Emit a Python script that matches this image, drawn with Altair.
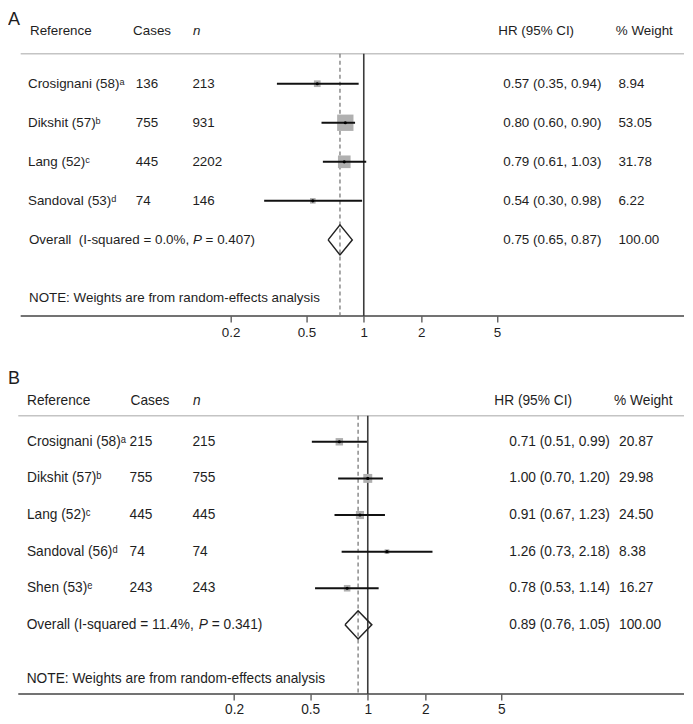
import altair as alt
import pandas as pd

FONT = "Liberation Sans"
TXT = "#1e1e1e"
ORIGIN = 8  # page margin: local = page - ORIGIN

# ---------------- data ----------------
headers = ["Reference", "Cases", "n", "HR (95% CI)", "% Weight"]
tick_values = [0.2, 0.5, 1, 2, 5]
note_text = "NOTE: Weights are from random-effects analysis"

a_names = ["Crosignani (58)\u1d43", "Dikshit (57)\u1d47", "Lang (52)\u1d9c", "Sandoval (53)\u1d48"]
a_cases = [136, 755, 445, 74]
a_n = [213, 931, 2202, 146]
a_hr = [0.57, 0.80, 0.79, 0.54]
a_lo = [0.35, 0.60, 0.61, 0.30]
a_hi = [0.94, 0.90, 1.03, 0.98]
a_weight = [8.94, 53.05, 31.78, 6.22]
a_overall = [0.75, 0.65, 0.87, 100.00]
a_overall_text = ["Overall\u00a0\u00a0(I-squared = 0.0%,", "P", "= 0.407)"]

b_names = ["Crosignani (58)\u1d43", "Dikshit (57)\u1d47", "Lang (52)\u1d9c", "Sandoval (56)\u1d48", "Shen (53)\u1d49"]
b_cases = [215, 755, 445, 74, 243]
b_n = [215, 755, 445, 74, 243]
b_hr = [0.71, 1.00, 0.91, 1.26, 0.78]
b_lo = [0.51, 0.70, 0.67, 0.73, 0.53]
b_hi = [0.99, 1.20, 1.23, 2.18, 1.14]
b_weight = [20.87, 29.98, 24.50, 8.38, 16.27]
b_overall = [0.89, 0.76, 1.05, 100.00]
b_overall_text = ["Overall (I-squared = 11.4%,", "P", "= 0.341)"]

# ---------------- layout (page pixels) ----------------
LA = dict(label="A", label_base=25, top=8, height=308, width=677,
          x0=20.7, x1=685, one=364.3, ppd=190.8,
          row0=83.3, step=39.1, header=30.7, hline=53.3, note=298, fs=13.4,
          c_name=28, h_name=30, c_cases=136, h_cases=133.3, c_n=192.7, h_n=193.3,
          c_hr=504, h_hr=499, c_w=619.3, h_w=616.7,
          ov_x=29, p_x=193.2, rest_x=205.9, box_k=5.05, lab_pad=3)
LB = dict(label="B", label_base=383.5, top=365, height=329, width=677,
          x0=18.3, x1=685, one=368.3, ppd=191.5,
          row0=441.3, step=36.67, header=400.3, hline=415.3, note=679.3, fs=13.75,
          c_name=27, h_name=27, c_cases=129.7, h_cases=130.7, c_n=192.7, h_n=193.3,
          c_hr=510, h_hr=495, c_w=620, h_w=615,
          ov_x=26.7, p_x=199, rest_x=212, box_k=2.67, lab_pad=2)
TICK = 6


def panel(names, cases, ns, hr, lo, hi, wt, overall, ov_text, L):
    k = len(names)
    fs = L["fs"]

    def row(py):
        return (py - L["row0"]) / L["step"]

    def lx(px):
        return px - ORIGIN

    rtop = row(L["top"])
    rbot = row(L["top"] + L["height"])
    hl = row(L["hline"])

    def xdom(px):
        return 10 ** ((px - L["one"]) / L["ppd"])

    xs = alt.Scale(type="log", domain=[xdom(ORIGIN), xdom(ORIGIN + L["width"])], nice=False)
    ys = alt.Scale(domain=[rtop, rbot], reverse=True, nice=False, zero=False)
    ax = alt.Axis(values=tick_values, format="~g", title=None, grid=False, domain=False,
                  tickColor="#444444", tickWidth=1.2, tickSize=TICK,
                  labelFontSize=fs, labelFont=FONT, labelColor=TXT,
                  labelPadding=L["lab_pad"], labelFlush=False, labelOverlap=False)

    studies = pd.DataFrame({
        "row": list(range(k)), "name": names, "cases": [str(c) for c in cases],
        "n": [str(v) for v in ns], "hr": hr, "lo": lo, "hi": hi, "weight": wt,
        "hr_text": [f"{h:.2f} ({l:.2f}, {u:.2f})" for h, l, u in zip(hr, lo, hi)],
        "w_text": [f"{w:.2f}" for w in wt],
    })
    guides = pd.DataFrame({
        "xa": [xdom(L["x0"]), xdom(L["x0"]), 1.0, overall[0]],
        "xb": [xdom(L["x1"]), xdom(L["x1"]), 1.0, overall[0]],
        "ya": [hl, rbot, hl, hl],
        "yb": [hl, rbot, rbot, rbot],
        "kind": ["header", "axis", "null", "overall"],
    })

    X = lambda f: alt.X(f, scale=xs, axis=ax)
    Y = alt.Y("row:Q", scale=ys, axis=None)

    layers = []

    def guide(kind, **style):
        return alt.Chart(guides).transform_filter(f"datum.kind == '{kind}'").mark_rule(**style).encode(
            x=X("xa:Q"), x2="xb:Q", y=alt.Y("ya:Q", scale=ys, axis=None), y2="yb:Q")

    layers.append(guide("header", color="#c4c4c4", strokeWidth=1.5))
    layers.append(guide("axis", color="#444444", strokeWidth=1.5))
    layers.append(guide("overall", color="#7a7a7a", strokeWidth=1.3, strokeDash=[4, 3]))
    layers.append(guide("null", color="#3c3c3c", strokeWidth=1.6))

    # weight boxes (area proportional to % weight)
    layers.append(alt.Chart(studies).transform_calculate(
        area=f"datum.weight * {L['box_k']}").mark_square(color="#b0b0b0", opacity=1).encode(
        x=X("hr:Q"), y=Y, size=alt.Size("area:Q", scale=None)))
    # confidence intervals
    layers.append(alt.Chart(studies).mark_rule(color="#111111", strokeWidth=2).encode(
        x=X("lo:Q"), x2="hi:Q", y=Y))
    # point estimates
    layers.append(alt.Chart(studies).mark_point(filled=True, color="#000000", size=10, opacity=1).encode(
        x=X("hr:Q"), y=Y))
    # pooled diamond
    h = 0.385
    dia = pd.DataFrame({
        "x": [overall[1], overall[0], overall[2], overall[0], overall[1]],
        "y": [k, k - h, k, k + h, k],
        "o": [0, 1, 2, 3, 4],
    })
    layers.append(alt.Chart(dia).mark_line(color="#222222", strokeWidth=1.5).encode(
        x=X("x:Q"), y=alt.Y("y:Q", scale=ys, axis=None), order="o:Q"))

    def txt(df, field, xpx, italic=False, size=None, baseline="middle"):
        return alt.Chart(df).mark_text(
            align="left", baseline=baseline, font=FONT, fontSize=size or fs, color=TXT,
            fontStyle="italic" if italic else "normal").encode(
            x=alt.value(lx(xpx)), y=Y, text=f"{field}:N")

    layers.append(txt(studies, "name", L["c_name"]))
    layers.append(txt(studies, "cases", L["c_cases"]))
    layers.append(txt(studies, "n", L["c_n"]))
    layers.append(txt(studies, "hr_text", L["c_hr"]))
    layers.append(txt(studies, "w_text", L["c_w"]))

    hr_ = row(L["header"])
    hx = [L["h_name"], L["h_cases"], L["h_n"], L["h_hr"], L["h_w"]]
    for lab, xp in zip(headers, hx):
        d = pd.DataFrame({"row": [hr_], "t": [lab]})
        layers.append(txt(d, "t", xp, italic=(lab == "n")))

    ov = pd.DataFrame({"row": [k], "a": [ov_text[0]], "p": [ov_text[1]], "b": [ov_text[2]],
                       "hr_text": [f"{overall[0]:.2f} ({overall[1]:.2f}, {overall[2]:.2f})"],
                       "w_text": [f"{overall[3]:.2f}"]})
    layers.append(txt(ov, "a", L["ov_x"]))
    layers.append(txt(ov, "p", L["p_x"], italic=True))
    layers.append(txt(ov, "b", L["rest_x"]))
    layers.append(txt(ov, "hr_text", L["c_hr"]))
    layers.append(txt(ov, "w_text", L["c_w"]))

    nd = pd.DataFrame({"row": [row(L["note"])], "t": [note_text]})
    layers.append(txt(nd, "t", L["ov_x"]))

    ld = pd.DataFrame({"row": [row(L["label_base"])], "t": [L["label"]]})
    layers.append(txt(ld, "t", ORIGIN, size=18, baseline="alphabetic"))

    return alt.layer(*layers).properties(width=L["width"], height=L["height"])


pa = panel(a_names, a_cases, a_n, a_hr, a_lo, a_hi, a_weight, a_overall, a_overall_text, LA)
pb = panel(b_names, b_cases, b_n, b_hr, b_lo, b_hi, b_weight, b_overall, b_overall_text, LB)

a_below = TICK + LA["lab_pad"] + LA["fs"]  # extent of panel A's tick labels below its plot
gap = LB["top"] - (LA["top"] + LA["height"]) - a_below
chart = alt.vconcat(pa, pb, spacing=gap).properties(padding=0).configure_view(stroke=None)

chart.save("out.html", embed_options={"renderer": "svg", "actions": False})
